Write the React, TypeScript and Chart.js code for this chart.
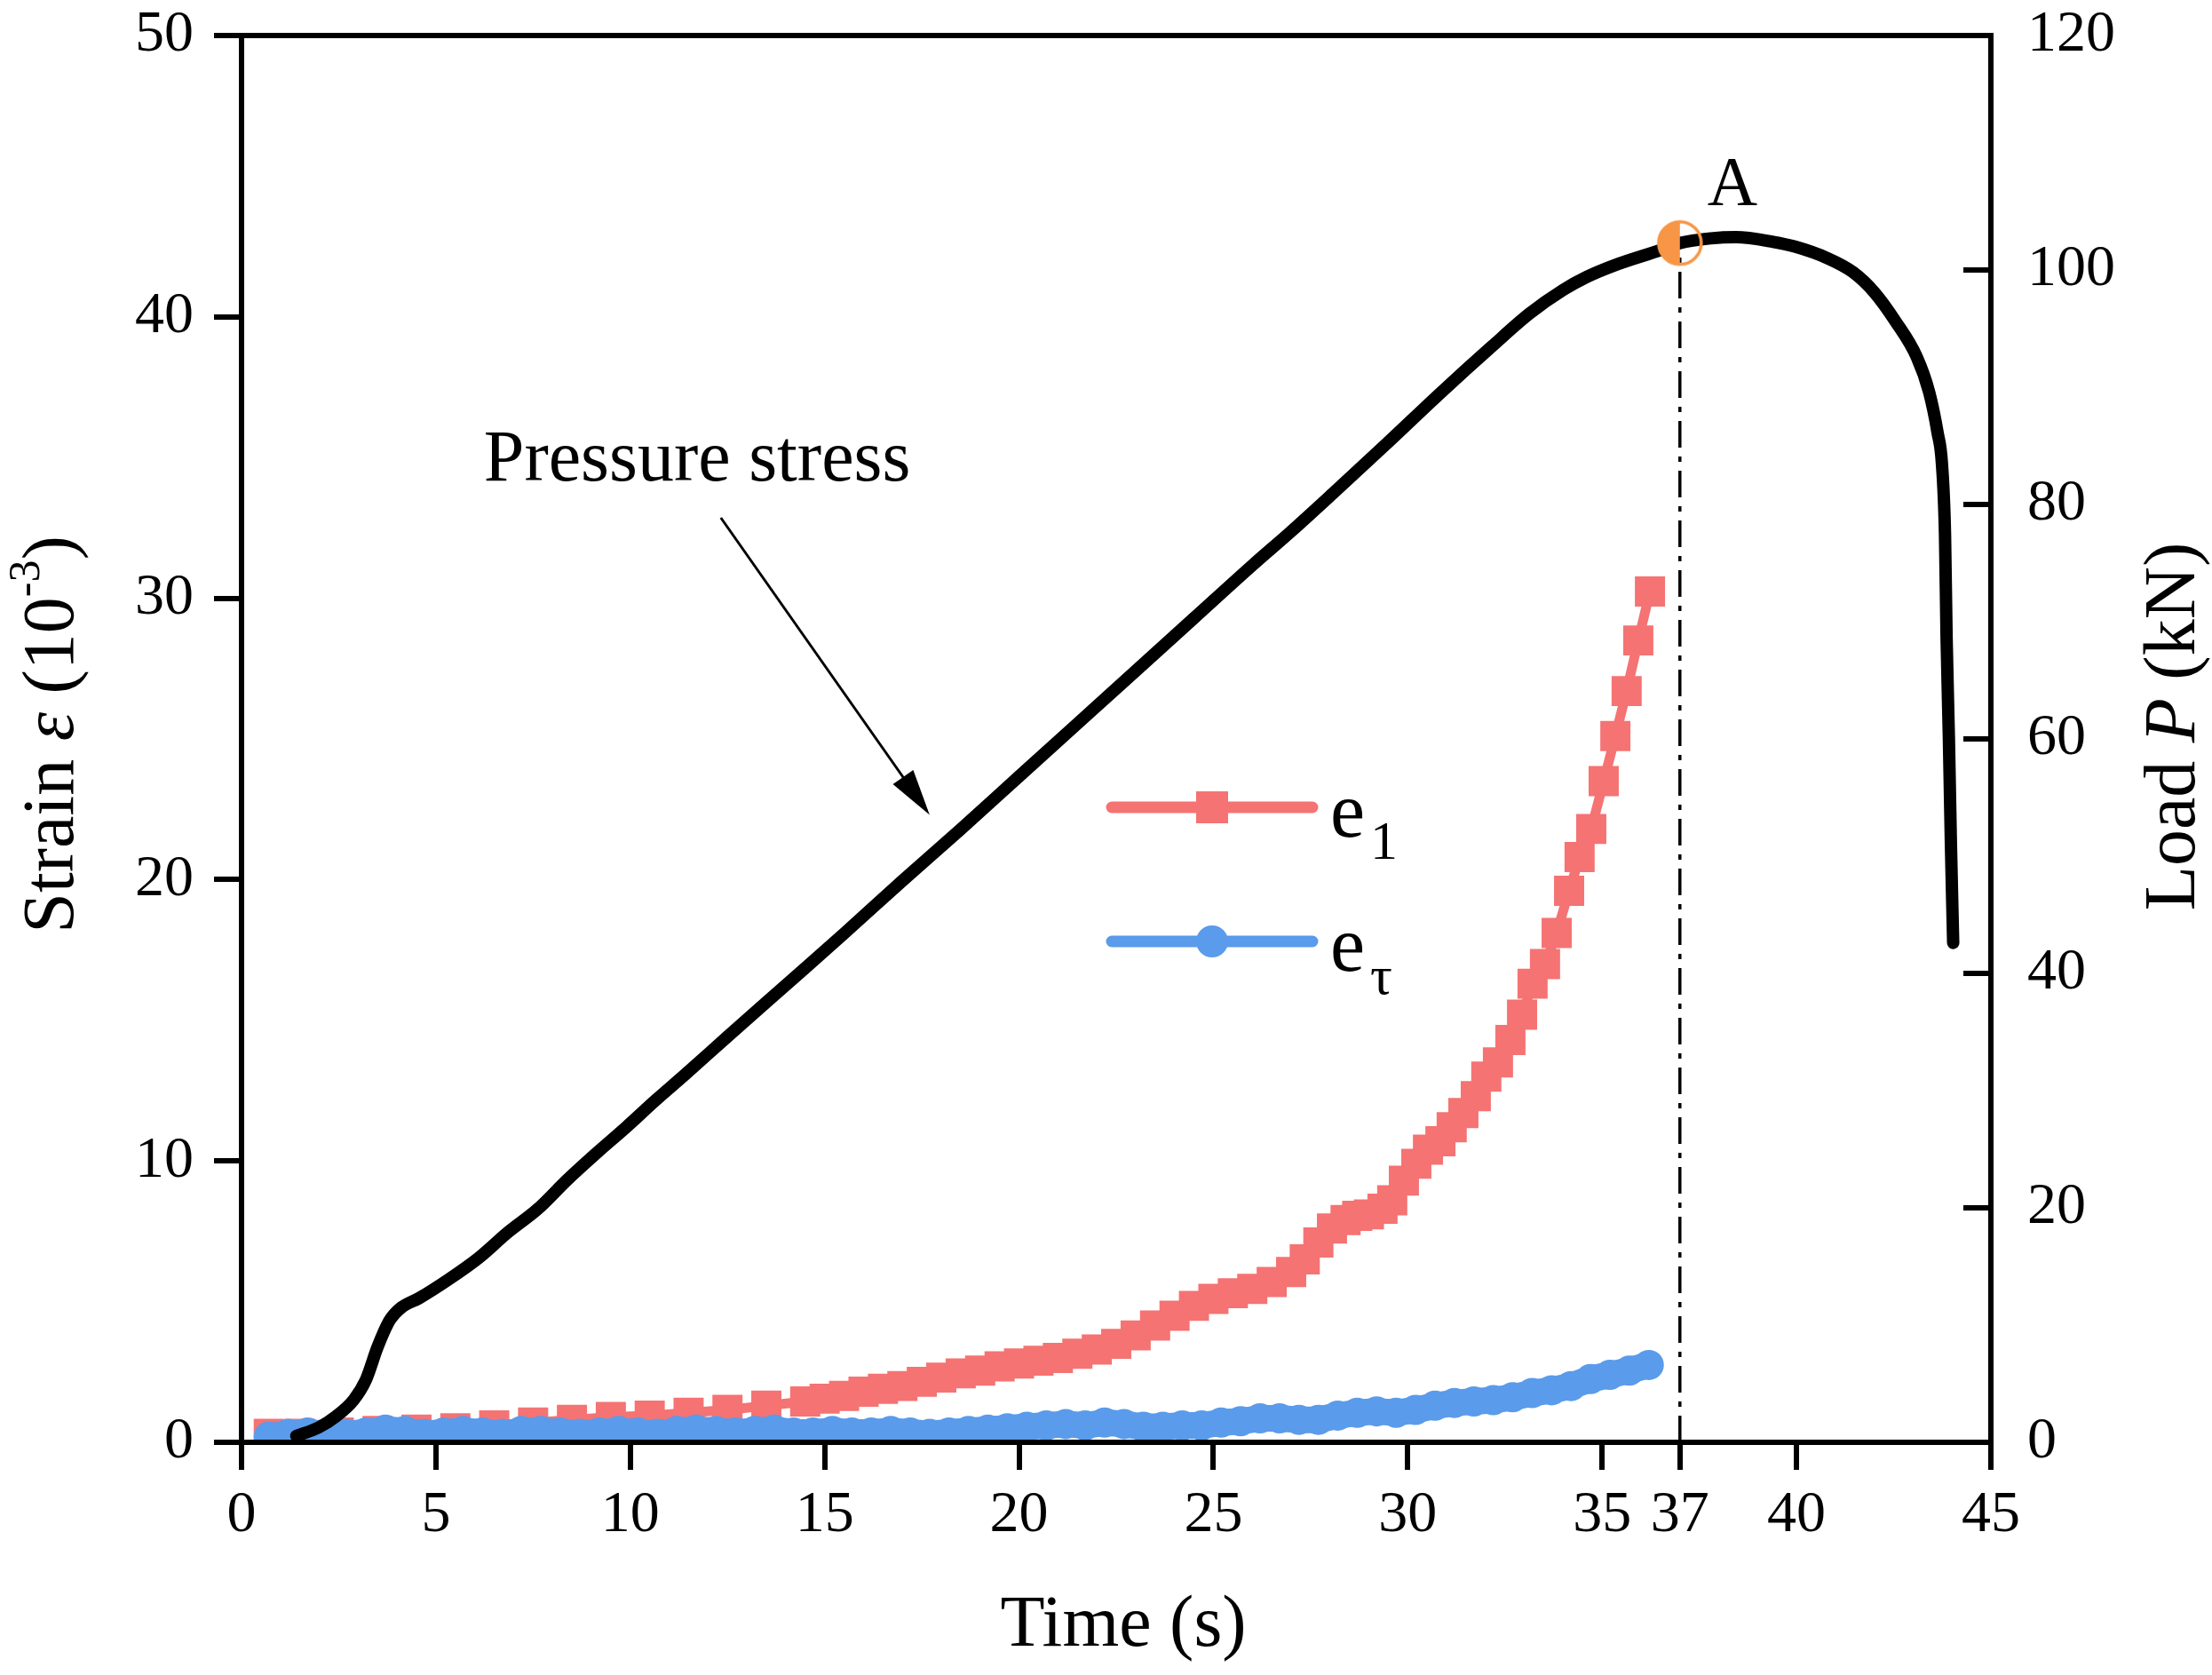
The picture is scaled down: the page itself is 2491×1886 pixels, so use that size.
import React, { useEffect, useRef } from "react";
import { Chart, registerables } from "chart.js";

Chart.register(...registerables);

// ---- data ----
const timeTicks = [0, 5, 10, 15, 20, 25, 30, 35, 37, 40, 45];

// pressure stress (load, kN, right axis)
const loadTime = [
  1.41, 1.98, 2.44, 2.89, 3.2, 3.5, 3.81, 4.11, 4.57, 5.33, 6.09, 6.85, 7.62, 8.38, 9.14, 9.9,
  10.66, 11.42, 12.5, 14, 15.5, 17, 18.5, 20, 21.5, 23, 24.5, 26, 27, 28.06, 29.46, 30.87,
  32.17, 33.14, 34.0, 34.6, 35.4, 36.5, 37.0, 37.8, 38.44, 39.4, 39.95, 40.8, 41.46, 42.0,
  42.55, 43.09, 43.41, 43.63, 43.74, 43.82, 43.86, 43.92, 43.97, 44.03,
];
const loadValue = [
  0.55, 1.26, 2.24, 3.64, 5.33, 8.13, 10.4, 11.5, 12.3, 13.9, 15.7, 17.9, 19.9, 22.4, 24.7, 26.9,
  29.2, 31.4, 34.6, 39.0, 43.4, 47.9, 52.3, 56.8, 61.3, 65.8, 70.3, 74.8, 77.7, 80.9, 85.2, 89.6,
  93.5, 96.3, 98.3, 99.4, 100.5, 101.7, 102.3, 102.7, 102.8, 102.4, 102.0, 101.0, 99.8, 98.1,
  95.6, 92.6, 89.6, 86.1, 83.5, 77.4, 68.7, 60.0, 51.3, 42.6,
];

// e1 strain (10^-3, left axis)
const e1Time = [
  0.7, 1.5, 2.5, 3.5, 4.5, 5.5, 6.5, 7.5, 8.5, 9.5, 10.5, 11.5, 12.5, 13.5, 14.5, 15, 15.5, 16,
  16.5, 17, 17.5, 18, 18.5, 19, 19.5, 20, 20.5, 21, 21.5, 22, 22.5, 23, 23.5, 24, 24.5, 25, 25.5,
  26, 26.5, 27, 27.35, 27.7, 28.05, 28.4, 28.7, 29.0, 29.35, 29.6, 29.9, 30.22, 30.52, 30.84,
  31.13, 31.43, 31.75, 32.02, 32.32, 32.64, 32.94, 33.21, 33.53, 33.83, 34.15, 34.42, 34.72,
  35.04, 35.34, 35.63, 35.93, 36.23,
];
const e1Value = [
  0.3, 0.3, 0.35, 0.4, 0.45, 0.5, 0.6, 0.7, 0.8, 0.9, 0.95, 1.05, 1.15, 1.3, 1.45, 1.55, 1.65, 1.8,
  1.9, 2.0, 2.15, 2.3, 2.45, 2.55, 2.7, 2.8, 2.9, 3.0, 3.15, 3.3, 3.5, 3.8, 4.15, 4.5, 4.85, 5.1, 5.3,
  5.45, 5.7, 6.05, 6.5, 7.1, 7.6, 7.9, 8.05, 8.1, 8.3, 8.6, 9.3, 9.9, 10.4, 10.7, 11.2, 11.7, 12.3,
  13.0, 13.5, 14.3, 15.2, 16.3, 17.0, 18.1, 19.6, 20.8, 21.8, 23.5, 25.1, 26.7, 28.5, 30.24,
];

// e_tau strain (10^-3, left axis)
const etTime = [
  0.7, 1.2, 1.7, 2.2, 2.7, 3.2, 3.7, 4.2, 4.7, 5.2, 5.7, 6.2, 6.7, 7.2, 7.7, 8.2, 8.7, 9.2, 9.7,
  10.2, 10.7, 11.2, 11.7, 12.2, 12.7, 13.2, 13.7, 14.2, 14.7, 15.2, 15.7, 16.2, 16.7, 17.2, 17.7,
  18.2, 18.7, 19.2, 19.7, 20.2, 20.7, 21.2, 21.7, 22.2, 22.7, 23.2, 23.7, 24.2, 24.7, 25.2, 25.7,
  26.2, 26.7, 27.2, 27.7, 28.2, 28.7, 29.2, 29.7, 30.2, 30.7, 31.2, 31.7, 32.2, 32.7, 33.2, 33.7,
  34.2, 34.7, 35.2, 35.7, 36.2,
];
const etValue = [
  0.2, 0.3, 0.35, 0.3, 0.3, 0.35, 0.45, 0.4, 0.3, 0.35, 0.4, 0.35, 0.3, 0.4, 0.4, 0.35, 0.3, 0.35,
  0.4, 0.35, 0.3, 0.4, 0.45, 0.4, 0.35, 0.4, 0.45, 0.35, 0.35, 0.4, 0.35, 0.35, 0.4, 0.35, 0.3,
  0.35, 0.4, 0.45, 0.5, 0.55, 0.6, 0.65, 0.6, 0.7, 0.65, 0.55, 0.55, 0.6, 0.6, 0.7, 0.75, 0.85,
  0.85, 0.8, 0.8, 0.95, 1.05, 1.1, 1.05, 1.15, 1.3, 1.4, 1.45, 1.5, 1.6, 1.75, 1.85, 2.0, 2.25,
  2.4, 2.55, 2.75,
];

// point A (peak) and annotations
const peakTime = 37;
const peakLoad = 102.3;
const labelA = { time: 38.35, load: 105.6 };
const note = { time: 11.72, strain: 34.2 };
const arrowTime = [12.33, 17.7];
const arrowStrain = [32.86, 22.3];

const RED = "#F57373";
const BLUE = "#5A9BEB";
const ORANGE = "#F79646";
const FONT = "'Liberation Serif', 'Times New Roman', serif";

type Run = { t: string; f: string; dy?: number };

function drawRuns(ctx: CanvasRenderingContext2D, runs: Run[], cx: number, cy: number, angle: number) {
  let total = 0;
  const widths = runs.map((r) => {
    ctx.font = r.f;
    const w = ctx.measureText(r.t).width;
    total += w;
    return w;
  });
  ctx.save();
  ctx.translate(cx, cy);
  ctx.rotate(angle);
  ctx.textAlign = "left";
  ctx.textBaseline = "alphabetic";
  let px = -total / 2;
  runs.forEach((r, i) => {
    ctx.font = r.f;
    ctx.fillText(r.t, px, r.dy || 0);
    px += widths[i];
  });
  ctx.restore();
}

const decorPlugin = {
  id: "decor",
  afterDraw(chart: any) {
    const { ctx, chartArea: ca, scales } = chart;
    const x = scales.x;
    const y = scales.y;
    const y1 = scales.y1;
    ctx.save();
    ctx.strokeStyle = "#000";
    ctx.fillStyle = "#000";

    // top frame line
    ctx.lineWidth = 6;
    ctx.beginPath();
    ctx.moveTo(ca.left - 3, ca.top);
    ctx.lineTo(ca.right + 3, ca.top);
    ctx.stroke();

    // right axis ticks pointing inward
    y1.ticks.forEach((t: any) => {
      const py = y1.getPixelForValue(t.value);
      ctx.beginPath();
      ctx.moveTo(ca.right - 31, py);
      ctx.lineTo(ca.right, py);
      ctx.stroke();
    });

    // arrow to the load curve
    const ax0 = x.getPixelForValue(arrowTime[0]);
    const ay0 = y.getPixelForValue(arrowStrain[0]);
    const ax1 = x.getPixelForValue(arrowTime[1]);
    const ay1 = y.getPixelForValue(arrowStrain[1]);
    const ang = Math.atan2(ay1 - ay0, ax1 - ax0);
    const headLen = 52;
    const headW = 14;
    ctx.lineWidth = 3;
    ctx.beginPath();
    ctx.moveTo(ax0, ay0);
    ctx.lineTo(ax1 - Math.cos(ang) * headLen * 0.8, ay1 - Math.sin(ang) * headLen * 0.8);
    ctx.stroke();
    ctx.beginPath();
    ctx.moveTo(ax1, ay1);
    ctx.lineTo(
      ax1 - Math.cos(ang) * headLen - Math.sin(ang) * headW,
      ay1 - Math.sin(ang) * headLen + Math.cos(ang) * headW
    );
    ctx.lineTo(
      ax1 - Math.cos(ang) * headLen + Math.sin(ang) * headW,
      ay1 - Math.sin(ang) * headLen - Math.cos(ang) * headW
    );
    ctx.closePath();
    ctx.fill();

    // text annotations
    ctx.textBaseline = "alphabetic";
    ctx.textAlign = "center";
    ctx.font = `82px ${FONT}`;
    ctx.fillText("Pressure stress", x.getPixelForValue(note.time), y.getPixelForValue(note.strain));
    ctx.font = `78px ${FONT}`;
    ctx.fillText("A", x.getPixelForValue(labelA.time), y1.getPixelForValue(labelA.load));

    // legend
    const lx0 = ca.left + 980;
    const lx1 = ca.left + 1206;
    const rows = [
      { yy: ca.top + 869, color: RED, sub: "1", subDy: 25, shape: "rect" },
      { yy: ca.top + 1020, color: BLUE, sub: "\u03c4", subDy: 26, shape: "circle" },
    ];
    rows.forEach((r) => {
      ctx.strokeStyle = r.color;
      ctx.fillStyle = r.color;
      ctx.lineWidth = 13;
      ctx.lineCap = "round";
      ctx.beginPath();
      ctx.moveTo(lx0, r.yy);
      ctx.lineTo(lx1, r.yy);
      ctx.stroke();
      const mx = (lx0 + lx1) / 2;
      if (r.shape === "rect") {
        ctx.fillRect(mx - 18, r.yy - 18, 36, 36);
      } else {
        ctx.beginPath();
        ctx.arc(mx, r.yy, 18, 0, Math.PI * 2);
        ctx.fill();
      }
      ctx.fillStyle = "#000";
      ctx.textAlign = "left";
      ctx.font = `88px ${FONT}`;
      const tx = lx1 + 20;
      const by = r.yy + 33;
      ctx.fillText("e", tx, by);
      const ew = ctx.measureText("e").width;
      ctx.font = `62px ${FONT}`;
      ctx.fillText(r.sub, tx + ew + 6, by + r.subDy);
    });

    // axis titles
    ctx.fillStyle = "#000";
    const big = `82px ${FONT}`;
    const bigI = `italic 82px ${FONT}`;
    const sup = `50px ${FONT}`;
    drawRuns(
      ctx,
      [
        { t: "Strain ", f: big },
        { t: "\u03b5", f: bigI },
        { t: " (10", f: big },
        { t: "-3", f: sup, dy: -38 },
        { t: ")", f: big },
      ],
      ca.left - 190,
      (ca.top + ca.bottom) / 2 - 5,
      -Math.PI / 2
    );
    drawRuns(
      ctx,
      [
        { t: "Load ", f: big },
        { t: "P", f: bigI },
        { t: " (kN)", f: big },
      ],
      ca.right + 229,
      (ca.top + ca.bottom) / 2 - 14,
      -Math.PI / 2
    );
    drawRuns(ctx, [{ t: "Time (s)", f: big }], (ca.left + ca.right) / 2 + 8, ca.bottom + 229, 0);

    ctx.restore();
  },
};

function makeHalfMarker(): HTMLCanvasElement {
  const c = document.createElement("canvas");
  c.width = 56;
  c.height = 56;
  const g = c.getContext("2d")!;
  g.fillStyle = ORANGE;
  g.beginPath();
  g.arc(28, 28, 24, Math.PI / 2, (Math.PI * 3) / 2);
  g.closePath();
  g.fill();
  g.strokeStyle = ORANGE;
  g.lineWidth = 3.5;
  g.beginPath();
  g.arc(28, 28, 24, 0, Math.PI * 2);
  g.stroke();
  return c;
}

const noPad = (s: any) => {
  s.paddingTop = 0;
  s.paddingBottom = 0;
  s.paddingLeft = 0;
  s.paddingRight = 0;
};

const StrainLoadChart: React.FC = () => {
  const chartRef = useRef<HTMLCanvasElement | null>(null);

  useEffect(() => {
    document.body.style.margin = "0";
    if (!chartRef.current) return;
    const ctx = chartRef.current.getContext("2d");
    if (!ctx) return;

    const tickFont = { family: FONT, size: 66 };
    const axisGrid = {
      display: true,
      drawOnChartArea: false,
      drawTicks: true,
      tickLength: 31,
      lineWidth: 6,
      color: "#000",
      z: 1,
    };
    const axisBorder = { display: true, width: 6, color: "#000", z: 1 };

    const chartInstance = new Chart(ctx, {
      type: "line",
      data: {
        datasets: [
          {
            label: "A",
            data: [{ x: peakTime, y: peakLoad }],
            yAxisID: "y1",
            showLine: false,
            pointStyle: makeHalfMarker() as any,
            pointRadius: 25,
          },
          {
            label: "peak line",
            data: [
              { x: peakTime, y: 0 },
              { x: peakTime, y: peakLoad },
            ],
            yAxisID: "y1",
            borderColor: "#000",
            borderWidth: 3.5,
            borderDash: [30, 10, 6, 10],
            pointRadius: 0,
          },
          {
            label: "Pressure stress",
            data: loadTime.map((t, i) => ({ x: t, y: loadValue[i] })),
            yAxisID: "y1",
            borderColor: "#000",
            borderWidth: 14,
            borderCapStyle: "round",
            borderJoinStyle: "round",
            cubicInterpolationMode: "monotone",
            pointRadius: 0,
          },
          {
            label: "e_tau",
            data: etTime.map((t, i) => ({ x: t, y: etValue[i] })),
            yAxisID: "y",
            borderColor: BLUE,
            backgroundColor: BLUE,
            borderWidth: 30,
            borderJoinStyle: "round",
            pointStyle: "circle",
            pointRadius: 17,
            pointBorderWidth: 0,
            pointBackgroundColor: BLUE,
          },
          {
            label: "e_1",
            data: e1Time.map((t, i) => ({ x: t, y: e1Value[i] })),
            yAxisID: "y",
            borderColor: RED,
            backgroundColor: RED,
            borderWidth: 11,
            pointStyle: "rect",
            pointRadius: 24,
            pointBorderWidth: 0,
            pointBackgroundColor: RED,
          },
        ],
      },
      options: {
        responsive: false,
        animation: false,
        devicePixelRatio: 1,
        events: [],
        layout: { padding: { top: 40, left: 0, right: 0, bottom: 0 } },
        plugins: {
          legend: { display: false },
          tooltip: { enabled: false },
        },
        scales: {
          x: {
            type: "linear",
            min: 0,
            max: 45,
            afterBuildTicks: (s: any) => {
              s.ticks = timeTicks.map((v) => ({ value: v }));
            },
            afterFit: (s: any) => {
              s.height = 262;
              noPad(s);
            },
            ticks: {
              autoSkip: false,
              maxRotation: 0,
              minRotation: 0,
              padding: 12,
              color: "#000",
              font: tickFont,
            },
            grid: axisGrid,
            border: axisBorder,
          },
          y: {
            type: "linear",
            position: "left",
            min: 0,
            max: 50,
            afterFit: (s: any) => {
              s.width = 272;
              noPad(s);
            },
            ticks: { stepSize: 10, padding: 23, color: "#000", font: tickFont },
            grid: axisGrid,
            border: axisBorder,
          },
          y1: {
            type: "linear",
            position: "right",
            min: 0,
            max: 120,
            afterFit: (s: any) => {
              s.width = 249;
              noPad(s);
            },
            ticks: { stepSize: 20, padding: 41, color: "#000", font: tickFont },
            grid: { display: false, drawTicks: false },
            border: axisBorder,
          },
        },
      } as any,
      plugins: [decorPlugin],
    });

    return () => {
      chartInstance.destroy();
    };
  }, []);

  return (
    <div style={{ width: 2491, height: 1886, background: "#fff" }}>
      <canvas ref={chartRef} width={2491} height={1886} style={{ display: "block" }} />
    </div>
  );
};

export default function App() {
  return <StrainLoadChart />;
}
